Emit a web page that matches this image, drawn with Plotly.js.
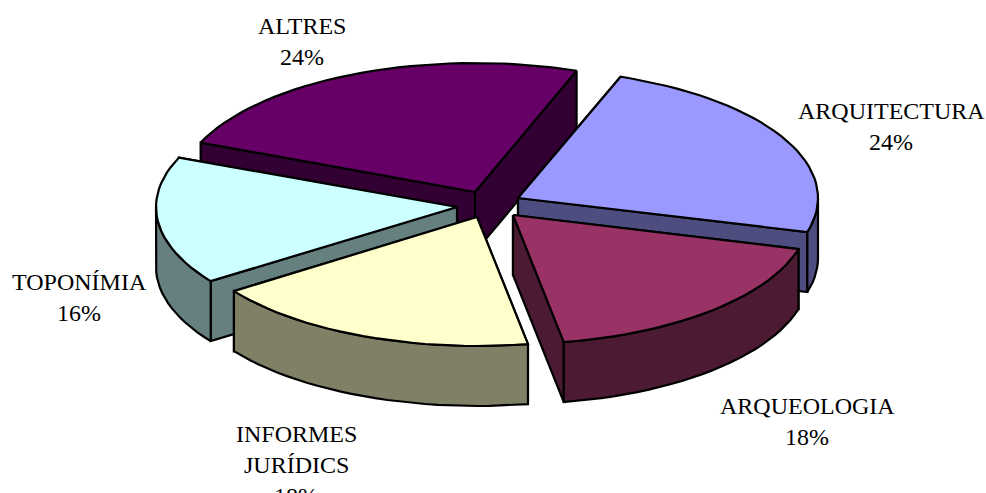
<!DOCTYPE html>
<html><head><meta charset="utf-8">
<script src="https://cdn.plot.ly/plotly-3.0.1.min.js"></script>
<style>html,body{margin:0;padding:0;background:#fff;overflow:hidden}#c{width:986px;height:493px}</style>
</head><body><div id="c"></div>
<script>
// data, clockwise from the first slice (labels show these rounded)
const categories = ["ARQUITECTURA","ARQUEOLOGIA","INFORMES JURÍDICS","TOPONÍMIA","ALTRES"];
const values = [23.7,18,18,16,24.3];
const labelLines = [["ARQUITECTURA"],["ARQUEOLOGIA"],["INFORMES","JURÍDICS"],["TOPONÍMIA"],["ALTRES"]];
// styles
const topColors = ["#9999FF","#993366","#FFFFCC","#CCFFFF","#660066"];
const sideColors = ["#4D4D80","#4D1A33","#808066","#668080","#330033"];
// geometry of the drawing
const apexX = [518,513,477,457,475];
const apexY = [198,215,217,207,192];
const radiusX = [300,296,297,301,297];
const labelX = [891,807,296,79,302];
const labelY = [111,406,434,282,26];
const drawOrder = [4,0,3,1,2];
const RY=129, DEPTH=60, START=20, LINE_GAP=31, FONT=24, MAX_ANCHOR_Y=485;

const total = values.reduce((a,b)=>a+b,0);
let angle = START;
const spans = values.map(v=>{const a=angle; angle+=v/total*360; return [a,angle];});
const rim=(i,t,d=0)=>{const r=t*Math.PI/180;return [apexX[i]+radiusX[i]*Math.sin(r),apexY[i]-RY*Math.cos(r)+d];};
const arc=(i,a,b,d=0)=>{const n=Math.max(2,Math.ceil(Math.abs(b-a)/2.5));const p=[];for(let k=0;k<=n;k++)p.push(rim(i,a+(b-a)*k/n,d));return p;};
const poly=(pts,fill,name)=>({type:"scatter",mode:"lines",x:[...pts.map(p=>p[0]),pts[0][0]],y:[...pts.map(p=>p[1]),pts[0][1]],
  fill:"toself",fillcolor:fill,line:{color:"#000",width:2.2,shape:"linear"},name:name,hoverinfo:"name",showlegend:false});
const traces=[];
drawOrder.forEach(i=>{
  const [a,b]=spans[i],ax=[apexX[i],apexY[i]],axB=[apexX[i],apexY[i]+DEPTH];
  // cut faces, the one reaching furthest back first
  [a,b].sort((p,q)=>rim(i,p)[1]-rim(i,q)[1]).forEach(t=>traces.push(poly([ax,rim(i,t),rim(i,t,DEPTH),axB],sideColors[i],categories[i])));
  const w1=Math.max(a,90),w2=Math.min(b,270);
  if(w2>w1) traces.push(poly([...arc(i,w1,w2),...arc(i,w2,w1,DEPTH)],sideColors[i],categories[i]));
  traces.push(poly([ax,...arc(i,a,b)],topColors[i],categories[i]));
});
const annotations=[];
const addLine=(text,x,y)=>{const ay=Math.min(y,MAX_ANCHOR_Y);annotations.push({text:text,x:x,y:ay,yshift:ay-y,xref:"x",yref:"y",showarrow:false,xanchor:"center",yanchor:"middle",
  font:{family:"Liberation Serif, Times New Roman, serif",size:FONT,color:"#000"}});};
categories.forEach((c,i)=>{
  labelLines[i].forEach((l,k)=>addLine(l,labelX[i],labelY[i]+k*LINE_GAP));
  addLine(Math.round(values[i]/total*100)+"%",labelX[i],labelY[i]+labelLines[i].length*LINE_GAP);
});
const layout={width:986,height:493,margin:{l:0,r:0,t:0,b:0},paper_bgcolor:"#fff",plot_bgcolor:"#fff",showlegend:false,
  xaxis:{range:[0,986],visible:false,fixedrange:true},yaxis:{range:[493,0],visible:false,fixedrange:true},annotations:annotations};
Plotly.newPlot("c",traces,layout,{displayModeBar:false,staticPlot:true});
</script></body></html>
